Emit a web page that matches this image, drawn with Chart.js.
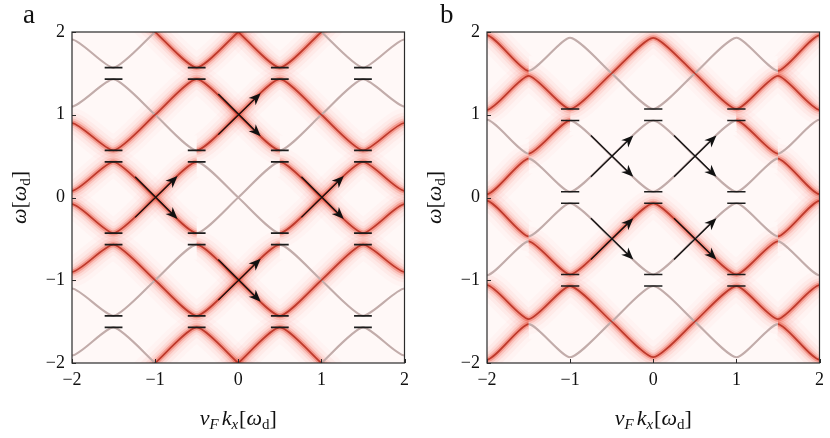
<!DOCTYPE html>
<html><head><meta charset="utf-8">
<script src="https://cdn.jsdelivr.net/npm/chart.js@4.4.1/dist/chart.umd.min.js"></script>
<style>
html,body{margin:0;padding:0;background:#fff;}
#wrap{position:relative;width:830px;height:438px;overflow:hidden;}
canvas{position:absolute;top:0;}
</style></head><body>
<div id="wrap">
<canvas id="ca" width="415" height="438" style="left:0px"></canvas>
<canvas id="cb" width="415" height="438" style="left:415px"></canvas>
</div>
<script>
// ------------------------- DATA -------------------------
// momentum grid (v_F k_x in units of ω_d) at which the band energies are read
const kGrid = [-2.5, -2, -1.5, -1, -0.5, 0, 0.5, 1, 1.5, 2, 2.5];
const xTickValues = [-2, -1, 0, 1, 2];
const yTickValues = [-2, -1, 0, 1, 2];

// panel a: Floquet band energies ω (units of ω_d) at kGrid
const bandsA = [
  [2.43, 2.1, 2.43, 2, 1.57, 2, 2.43, 2, 1.57, 1.91, 1.57],
  [1.43, 1.1, 1.43, 1, 0.57, 1, 1.43, 1, 0.57, 0.9, 0.57],
  [0.43, 0.08, 0.43, 0, -0.43, 0, 0.43, 0, -0.43, -0.08, -0.43],
  [-0.57, -0.9, -0.57, -1, -1.43, -1, -0.57, -1, -1.43, -1.1, -1.43],
  [-1.57, -1.91, -1.57, -2, -2.43, -2, -1.57, -2, -2.43, -2.1, -2.43],
  [1.57, 1.91, 1.57, 2, 2.43, 2, 1.57, 2, 2.43, 2.1, 2.43],
  [0.57, 0.9, 0.57, 1, 1.43, 1, 0.57, 1, 1.43, 1.1, 1.43],
  [-0.43, -0.08, -0.43, 0, 0.43, 0, -0.43, 0, 0.43, 0.08, 0.43],
  [-1.43, -1.1, -1.43, -1, -0.57, -1, -1.43, -1, -0.57, -0.9, -0.57],
  [-2.43, -2.1, -2.43, -2, -1.57, -2, -2.43, -2, -1.57, -1.91, -1.57]
];
// spectral weight of each piece between grid points: r = strong (red), g = weak (grey)
const weightsA = ['ggrrrrgggg','rgggrrrrrg','rrrrggrrrr','grrrrrgggr','ggggrrrrgg',
                  'ggggrrrrgg','grrrrrgggr','rrrrggrrrr','rgggrrrrrg','ggrrrrgggg'];

// panel b
const bandsB = [
  [1.47, 1.06, 1.47, 1.07, 1.5, 1.93, 1.5, 1.07, 1.47, 1.06, 1.47],
  [0.47, 0.04, 0.47, 0.07, 0.5, 0.93, 0.5, 0.07, 0.47, 0.04, 0.47],
  [-0.53, -0.94, -0.53, -0.93, -0.5, -0.07, -0.5, -0.93, -0.53, -0.94, -0.53],
  [-1.53, -1.96, -1.53, -1.93, -1.5, -1.07, -1.5, -1.93, -1.53, -1.96, -1.53],
  [1.53, 1.96, 1.53, 1.93, 1.5, 1.07, 1.5, 1.93, 1.53, 1.96, 1.53],
  [0.53, 0.94, 0.53, 0.93, 0.5, 0.07, 0.5, 0.93, 0.53, 0.94, 0.53],
  [-0.47, -0.04, -0.47, -0.07, -0.5, -0.93, -0.5, -0.07, -0.47, -0.04, -0.47],
  [-1.47, -1.06, -1.47, -1.07, -1.5, -1.93, -1.5, -1.07, -1.47, -1.06, -1.47]
];
const weightsB = ['grrrrrrrrg','grggggggrg','ggrrrrrrgg','grggggggrg',
                  'grggggggrg','ggrggggrgg','grggggggrg','grrrrrrrrg'];

// gap markers (pairs of bars at ω0 ± half gap)
const gapColsA = [-1.5, -0.5, 0.5, 1.5];
const gapRowsA = [-1.5, -0.5, 0.5, 1.5];
const gapColsB = [-1, 0, 1];
const gapRowsB = [-1, 0, 1];
const gapHalfA = 0.069, gapHalfB = 0.069;
const barHalfA = 0.107, barHalfB = 0.11;

// arrows [k0, ω0, k1, ω1] (tail -> tip)
const arrowsA = [
  [-0.24, 0.76, 0.27, 1.26], [-0.24, 1.25, 0.27, 0.74],
  [-1.24, -0.24, -0.73, 0.26], [-1.24, 0.25, -0.73, -0.26],
  [0.76, -0.24, 1.27, 0.26], [0.76, 0.25, 1.27, -0.26],
  [-0.24, -1.24, 0.27, -0.74], [-0.24, -0.75, 0.27, -1.26]
];
const arrowsB = [
  [-0.75, 0.75, -0.24, 0.25], [-0.75, 0.25, -0.24, 0.75],
  [0.25, 0.75, 0.76, 0.25], [0.25, 0.25, 0.76, 0.75],
  [-0.75, -0.25, -0.24, -0.75], [-0.75, -0.75, -0.24, -0.25],
  [0.25, -0.25, 0.76, -0.75], [0.25, -0.75, 0.76, -0.25]
];

// ------------------------- STYLE / BUILD -------------------------
const SERIF = '"Liberation Serif", "DejaVu Serif", serif';
const layers = [
  {w: 30, c: 'rgba(244,120,100,0.035)', t: 'r'},
  {w: 21, c: 'rgba(242,100,80,0.055)', t: 'r'},
  {w: 14, c: 'rgba(240,88,64,0.09)', t: 'r'},
  {w: 9, c: 'rgba(236,74,50,0.16)', t: 'r'},
  {w: 5, c: 'rgba(230,62,40,0.34)', t: 'r'},
  {w: 2.1, c: 'rgb(194,172,170)', t: 'g'},
  {w: 1.7, c: 'rgba(182,44,30,0.88)', t: 'r'}
];
const CLEAR = 'rgba(0,0,0,0)';

function fmtTick(v){ return v < 0 ? '\u2212' + Math.abs(v) : String(v); }

function buildDatasets(bands, weights, gapCols, gapRows, gapHalf, barHalf, arrows){
  const ds = [];
  layers.forEach(L => {
    bands.forEach((b, bi) => {
      const wt = weights[bi];
      ds.push({
        type: 'line',
        data: kGrid.map((k, i) => ({x: k, y: b[i]})),
        borderColor: L.c, borderWidth: L.w, tension: 0.2,
        pointRadius: 0, fill: false, clip: 0,
        segment: { borderColor: ctx => (wt[ctx.p0DataIndex] === L.t ? L.c : CLEAR) }
      });
    });
  });
  // gap marker bars
  const bars = [];
  gapCols.forEach(k => gapRows.forEach(w => {
    [w + gapHalf, w - gapHalf].forEach(y => {
      bars.push({x: k - barHalf, y: y}, {x: k + barHalf, y: y}, {x: k, y: null});
    });
  }));
  ds.push({type: 'line', data: bars, borderColor: '#1c1c1c', borderWidth: 1.6,
           pointRadius: 0, spanGaps: false, tension: 0, clip: 0, fill: false});
  // arrow shafts
  const shafts = [];
  arrows.forEach(a => {
    shafts.push({x: a[0], y: a[1]}, {x: a[0] + (a[2]-a[0])*0.9, y: a[1] + (a[3]-a[1])*0.9}, {x: a[2], y: null});
  });
  ds.push({type: 'line', data: shafts, borderColor: '#111', borderWidth: 1.3,
           pointRadius: 0, spanGaps: false, tension: 0, clip: 0, fill: false});
  ds.forEach((d, i) => { d.order = 10000 - i; });
  return ds;
}

function drawRich(ctx, parts, x, y){
  let cx = x;
  parts.forEach(p => { ctx.font = p.f; cx += (p.dx || 0); ctx.fillText(p.t, cx, y + (p.dy || 0)); cx += ctx.measureText(p.t).width; });
}
function richWidth(ctx, parts){
  let w = 0;
  parts.forEach(p => { ctx.font = p.f; w += (p.dx || 0) + ctx.measureText(p.t).width; });
  return w;
}

function makePlugin(arrows, letter){
  return {
    id: 'deco',
    beforeDatasetsDraw(chart){
      const {ctx, chartArea: a} = chart;
      ctx.save();
      ctx.fillStyle = '#fff8f7';
      ctx.fillRect(a.left, a.top, a.right - a.left, a.bottom - a.top);
      ctx.restore();
    },
    afterDatasetsDraw(chart){
      const {ctx, chartArea: a, scales} = chart;
      const sx = scales.x, sy = scales.y;
      ctx.save();
      // arrow heads
      ctx.fillStyle = '#111';
      arrows.forEach(ar => {
        const x0 = sx.getPixelForValue(ar[0]), y0 = sy.getPixelForValue(ar[1]);
        const x1 = sx.getPixelForValue(ar[2]), y1 = sy.getPixelForValue(ar[3]);
        const ang = Math.atan2(y1 - y0, x1 - x0);
        const L = 12, H = 5, N = 3.5;
        ctx.save();
        ctx.translate(x1, y1); ctx.rotate(ang);
        ctx.beginPath();
        ctx.moveTo(0, 0); ctx.lineTo(-L, -H); ctx.lineTo(-L + N, 0); ctx.lineTo(-L, H); ctx.closePath();
        ctx.fill();
        ctx.restore();
      });
      // frame
      ctx.strokeStyle = '#2a2a2a'; ctx.lineWidth = 1.2;
      ctx.strokeRect(a.left, a.top, a.right - a.left, a.bottom - a.top);
      // inward ticks
      ctx.lineWidth = 1;
      xTickValues.forEach(v => { const p = Math.round(sx.getPixelForValue(v)) + 0.5; ctx.beginPath(); ctx.moveTo(p, a.bottom); ctx.lineTo(p, a.bottom - 4); ctx.stroke(); });
      yTickValues.forEach(v => { const p = Math.round(sy.getPixelForValue(v)) + 0.5; ctx.beginPath(); ctx.moveTo(a.left, p); ctx.lineTo(a.left + 4, p); ctx.stroke(); });
      ctx.restore();
    },
    afterDraw(chart){
      const {ctx, chartArea: a} = chart;
      ctx.save();
      ctx.fillStyle = '#111';
      ctx.textBaseline = 'alphabetic';
      const I = 'italic 22px ' + SERIF, R = '22px ' + SERIF, Si = 'italic 15px ' + SERIF, Sr = '15px ' + SERIF;
      const xt = [
        {t: 'v', f: I}, {t: 'F', f: Si, dy: 4}, {t: 'k', f: I, dx: 3}, {t: 'x', f: Si, dy: 4},
        {t: '[', f: R, dx: 1}, {t: '\u03c9', f: I}, {t: 'd', f: Sr, dy: 4}, {t: ']', f: R}
      ];
      const cx = (a.left + a.right) / 2;
      drawRich(ctx, xt, cx - richWidth(ctx, xt) / 2, 425);
      const yt = [ {t: '\u03c9', f: I}, {t: '[', f: R}, {t: '\u03c9', f: I}, {t: 'd', f: Sr, dy: 4}, {t: ']', f: R} ];
      ctx.save();
      ctx.translate(26, (a.top + a.bottom) / 2);
      ctx.rotate(-Math.PI / 2);
      drawRich(ctx, yt, -richWidth(ctx, yt) / 2, 0);
      ctx.restore();
      ctx.font = '27px ' + SERIF;
      ctx.fillText(letter, letter === 'a' ? 23 : 25, 23);
      ctx.restore();
    }
  };
}

function makeChart(id, bands, weights, gapCols, gapRows, gapHalf, barHalf, arrows, letter){
  const tickFont = {family: SERIF, size: 18};
  return new Chart(document.getElementById(id), {
    type: 'line',
    data: { datasets: buildDatasets(bands, weights, gapCols, gapRows, gapHalf, barHalf, arrows) },
    options: {
      responsive: false, animation: false, devicePixelRatio: 1,
      layout: { padding: {top: 32, right: 10, left: 0, bottom: 0} },
      plugins: { legend: {display: false}, tooltip: {enabled: false} },
      events: [],
      scales: {
        x: {
          type: 'linear', min: -2, max: 2,
          afterBuildTicks: s => { s.ticks = xTickValues.map(v => ({value: v})); },
          afterFit: s => { s.height = 75; },
          ticks: { callback: fmtTick, font: tickFont, color: '#111', padding: 6, maxRotation: 0, autoSkip: false },
          grid: { display: false, drawTicks: false }, border: { display: false }
        },
        y: {
          type: 'linear', min: -2, max: 2,
          afterBuildTicks: s => { s.ticks = yTickValues.map(v => ({value: v})); },
          afterFit: s => { s.width = 72; },
          ticks: { callback: fmtTick, font: tickFont, color: '#111', padding: 7, autoSkip: false },
          grid: { display: false, drawTicks: false }, border: { display: false }
        }
      }
    },
    plugins: [makePlugin(arrows, letter)]
  });
}

makeChart('ca', bandsA, weightsA, gapColsA, gapRowsA, gapHalfA, barHalfA, arrowsA, 'a');
makeChart('cb', bandsB, weightsB, gapColsB, gapRowsB, gapHalfB, barHalfB, arrowsB, 'b');
</script>
</body></html>
